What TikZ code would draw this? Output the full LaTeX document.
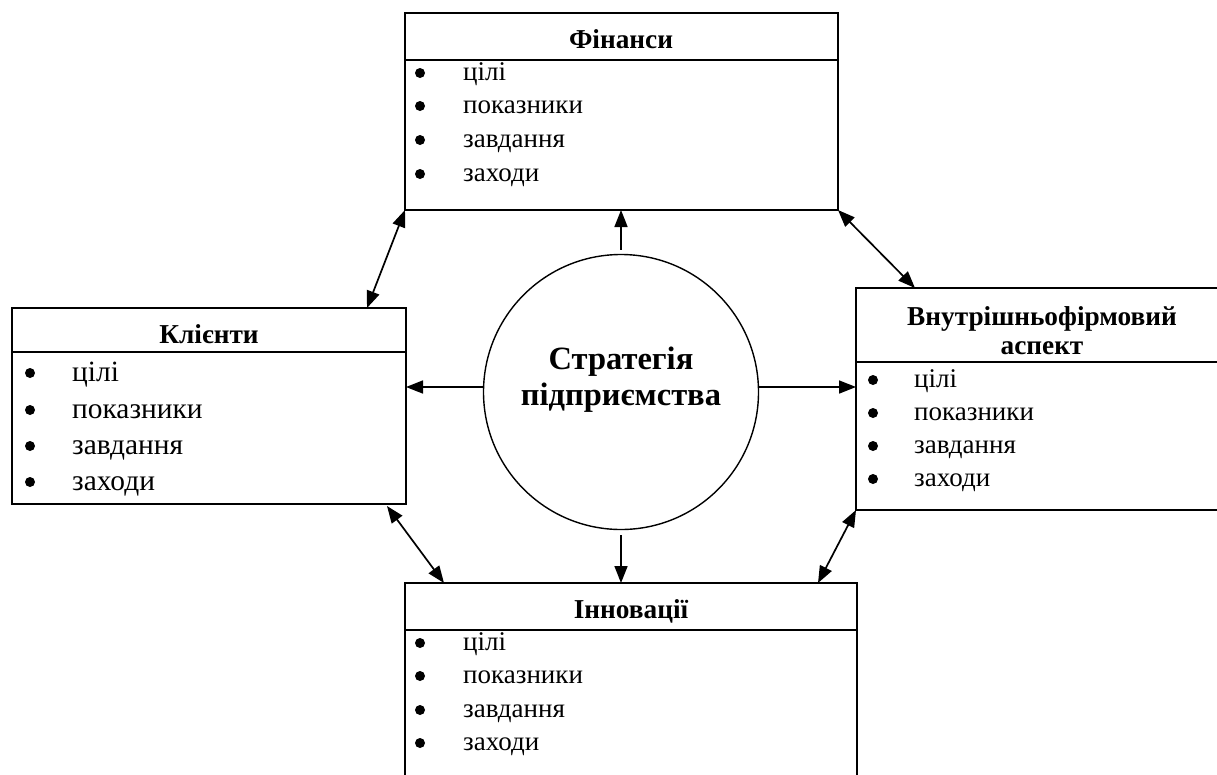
\documentclass[tikz,border=0pt]{standalone}
\usepackage{fontspec}
\setmainfont{Liberation Serif}
\usetikzlibrary{arrows.meta}
\begin{document}
\begin{tikzpicture}[x=1pt,y=-1pt,
  box/.style={draw, line width=1.8pt, anchor=north west, inner sep=0pt, outer sep=0pt},
  sep/.style={line width=1.8pt},
  conn/.style={line width=1.7pt, -{Triangle[length=17pt,width=13pt]}},
  dconn/.style={line width=1.7pt, {Triangle[length=17pt,width=13pt]}-{Triangle[length=17pt,width=13pt]}},
  bul/.style={circle, fill, inner sep=0pt, minimum size=10pt},
  item/.style={anchor=base west, inner sep=0pt, font=\fontsize{27}{31}\selectfont},
  itemb/.style={anchor=base west, inner sep=0pt, font=\fontsize{29.4}{33}\selectfont},
  head/.style={anchor=base, inner sep=0pt, font=\bfseries\fontsize{27.3}{31}\selectfont},
  ctext/.style={align=center, inner sep=0pt, font=\bfseries\fontsize{32.5}{36}\selectfont}]
\clip (0,0) rectangle (1217,774);
\fill[white] (0,0) rectangle (1217,774);

% boxes
\node[box, minimum width=433pt, minimum height=197pt] (fin) at (405,13) {};
\node[box, minimum width=394pt, minimum height=196pt] (kli) at (12,308) {};
\node[box, minimum width=372pt, minimum height=222pt] (vnu) at (856,288) {};
\node[box, minimum width=452pt, minimum height=230pt] (inn) at (405,583) {};

% header separators
\draw[sep] ([yshift=-47pt]fin.north west) -- ([yshift=-47pt]fin.north east);
\draw[sep] ([yshift=-44pt]kli.north west) -- ([yshift=-44pt]kli.north east);
\draw[sep] ([yshift=-74pt]vnu.north west) -- ([yshift=-74pt]vnu.north east);
\draw[sep] ([yshift=-47pt]inn.north west) -- ([yshift=-47pt]inn.north east);

% headers
\node[head] (finh) at (621,48) {Фінанси};
\node[head] (klih) at (209,343) {Клієнти};
\node[head] (vnuh1) at (1042,325) {Внутрішньофірмовий};
\node[head] (vnuh2) at (1042,354) {аспект};
\node[head] (innh) at (631,618) {Інновації};

% Фінанси items
\node[bul] (fb1) at (420,73) {};
\node[bul] (fb2) at (420,106) {};
\node[bul] (fb3) at (420,140) {};
\node[bul] (fb4) at (420,174) {};
\node[item] (ft1) at (463,80) {цілі};
\node[item] (ft2) at (463,113) {показники};
\node[item] (ft3) at (463,147) {завдання};
\node[item] (ft4) at (463,181) {заходи};

% Клієнти items
\node[bul] (kb1) at (30,373) {};
\node[bul] (kb2) at (30,410) {};
\node[bul] (kb3) at (30,446) {};
\node[bul] (kb4) at (30,482) {};
\node[itemb] (kt1) at (72,381) {цілі};
\node[itemb] (kt2) at (72,418) {показники};
\node[itemb] (kt3) at (72,454) {завдання};
\node[itemb] (kt4) at (72,490) {заходи};

% Внутрішньофірмовий items
\node[bul] (vb1) at (873,380) {};
\node[bul] (vb2) at (873,413) {};
\node[bul] (vb3) at (873,446) {};
\node[bul] (vb4) at (873,479) {};
\node[item] (vt1) at (914,387) {цілі};
\node[item] (vt2) at (914,420) {показники};
\node[item] (vt3) at (914,453) {завдання};
\node[item] (vt4) at (914,486) {заходи};

% Інновації items
\node[bul] (ib1) at (420,643) {};
\node[bul] (ib2) at (420,676) {};
\node[bul] (ib3) at (420,710) {};
\node[bul] (ib4) at (420,743) {};
\node[item] (it1) at (463,650) {цілі};
\node[item] (it2) at (463,683) {показники};
\node[item] (it3) at (463,717) {завдання};
\node[item] (it4) at (463,750) {заходи};

% circle
\node[draw, circle, line width=1.4pt, minimum size=275pt, inner sep=0pt] (circ) at (621,392) {};
\node[ctext] (ctitle) at (621,380) {Стратегія\\підприємства};

% straight arrows
\draw[conn] ([yshift=4pt]circ.north) -- (circ.north |- fin.south);
\draw[conn] ([yshift=-5pt]circ.south) -- (circ.south |- inn.north);
\draw[conn] ([yshift=5pt]circ.west) -- ([yshift=5pt]circ.west -| kli.east);
\draw[conn] ([yshift=5pt]circ.east) -- ([yshift=5pt]circ.east -| vnu.west);

% diagonal double arrows
\draw[dconn] (fin.south west) -- ([xshift=-39pt]kli.north east);
\draw[dconn] (fin.south east) -- ([xshift=59pt]vnu.north west);
\draw[dconn] ([xshift=-19pt,yshift=-2pt]kli.south east) -- ([xshift=39pt]inn.north west);
\draw[dconn] (vnu.south west) -- ([xshift=-39pt]inn.north east);
\end{tikzpicture}
\end{document}
